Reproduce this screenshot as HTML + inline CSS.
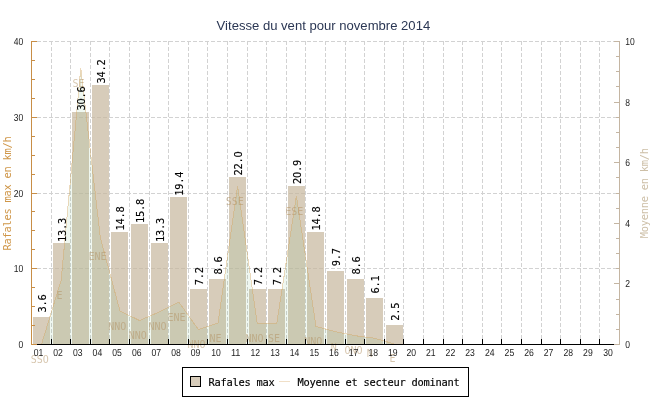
<!DOCTYPE html>
<html><head><meta charset="utf-8"><title>Vitesse du vent pour novembre 2014</title>
<style>html,body{margin:0;padding:0;background:#fff}svg{display:block}.t{font-family:"Liberation Sans",sans-serif}.m{font-family:"DejaVu Sans Mono","Liberation Mono",monospace;font-size:10.4px;letter-spacing:-0.261px}.z{font-family:"DejaVu Sans","Liberation Sans",sans-serif;font-size:9.8px;letter-spacing:-0.235px}</style></head><body>
<svg width="650" height="400" viewBox="0 0 650 400">
<rect width="650" height="400" fill="#fff"/>
<g stroke="#d2d2d2" stroke-width="1" stroke-dasharray="4 2" shape-rendering="crispEdges"><line x1="51.5" y1="41.0" x2="51.5" y2="344.0"/><line x1="70.5" y1="41.0" x2="70.5" y2="344.0"/><line x1="90.5" y1="41.0" x2="90.5" y2="344.0"/><line x1="109.5" y1="41.0" x2="109.5" y2="344.0"/><line x1="129.5" y1="41.0" x2="129.5" y2="344.0"/><line x1="149.5" y1="41.0" x2="149.5" y2="344.0"/><line x1="168.5" y1="41.0" x2="168.5" y2="344.0"/><line x1="188.5" y1="41.0" x2="188.5" y2="344.0"/><line x1="207.5" y1="41.0" x2="207.5" y2="344.0"/><line x1="227.5" y1="41.0" x2="227.5" y2="344.0"/><line x1="247.5" y1="41.0" x2="247.5" y2="344.0"/><line x1="266.5" y1="41.0" x2="266.5" y2="344.0"/><line x1="286.5" y1="41.0" x2="286.5" y2="344.0"/><line x1="305.5" y1="41.0" x2="305.5" y2="344.0"/><line x1="325.5" y1="41.0" x2="325.5" y2="344.0"/><line x1="345.5" y1="41.0" x2="345.5" y2="344.0"/><line x1="364.5" y1="41.0" x2="364.5" y2="344.0"/><line x1="384.5" y1="41.0" x2="384.5" y2="344.0"/><line x1="403.5" y1="41.0" x2="403.5" y2="344.0"/><line x1="423.5" y1="41.0" x2="423.5" y2="344.0"/><line x1="443.5" y1="41.0" x2="443.5" y2="344.0"/><line x1="462.5" y1="41.0" x2="462.5" y2="344.0"/><line x1="482.5" y1="41.0" x2="482.5" y2="344.0"/><line x1="501.5" y1="41.0" x2="501.5" y2="344.0"/><line x1="521.5" y1="41.0" x2="521.5" y2="344.0"/><line x1="541.5" y1="41.0" x2="541.5" y2="344.0"/><line x1="560.5" y1="41.0" x2="560.5" y2="344.0"/><line x1="580.5" y1="41.0" x2="580.5" y2="344.0"/><line x1="599.5" y1="41.0" x2="599.5" y2="344.0"/><line x1="37" y1="268.5" x2="616" y2="268.5"/><line x1="37" y1="193.5" x2="616" y2="193.5"/><line x1="37" y1="117.5" x2="616" y2="117.5"/><line x1="37" y1="41.5" x2="616" y2="41.5"/></g>
<g fill="rgba(198,182,156,0.7)" shape-rendering="crispEdges"><rect x="33" y="317" width="17" height="27"/><rect x="53" y="243" width="17" height="101"/><rect x="72" y="112" width="17" height="232"/><rect x="92" y="85" width="17" height="259"/><rect x="111" y="232" width="17" height="112"/><rect x="131" y="224" width="17" height="120"/><rect x="151" y="243" width="17" height="101"/><rect x="170" y="197" width="17" height="147"/><rect x="190" y="289" width="17" height="55"/><rect x="209" y="279" width="17" height="65"/><rect x="229" y="177" width="17" height="167"/><rect x="249" y="289" width="17" height="55"/><rect x="268" y="289" width="17" height="55"/><rect x="288" y="186" width="17" height="158"/><rect x="307" y="232" width="17" height="112"/><rect x="327" y="271" width="17" height="73"/><rect x="347" y="279" width="17" height="65"/><rect x="366" y="298" width="17" height="46"/><rect x="386" y="325" width="17" height="19"/></g>
<polygon points="41.6,344.0 41.6,344 61.2,280 80.8,68 100.4,238 120.0,311 139.6,320.5 159.2,312 178.8,302 198.4,329.5 218.0,323 237.6,186 257.2,323.3 276.8,323.3 296.4,196 316.0,326.4 335.6,331.8 355.2,335.7 374.8,338.3 394.4,344 394.4,344.0" fill="rgba(110,181,118,0.11)"/>
<polyline points="41.6,344 61.2,280 80.8,68 100.4,238 120.0,311 139.6,320.5 159.2,312 178.8,302 198.4,329.5 218.0,323 237.6,186 257.2,323.3 276.8,323.3 296.4,196 316.0,326.4 335.6,331.8 355.2,335.7 374.8,338.3 394.4,344" fill="none" stroke="rgba(212,162,90,0.39)" stroke-width="1" shape-rendering="crispEdges"/>
<g class="m" style="font-size:10px;letter-spacing:-0.02px" fill="rgba(178,146,100,0.52)" text-anchor="middle"><text x="39.8" y="362.8">SSO</text><text x="59.4" y="299.0">E</text><text x="78.5" y="87.1">SE</text><text x="97.6" y="259.5">ENE</text><text x="117.2" y="329.5">NNO</text><text x="137.8" y="339.0">NNO</text><text x="157.4" y="330.1">NNO</text><text x="176.4" y="320.8">ENE</text><text x="196.4" y="347.9">NNO</text><text x="215.5" y="341.7">NE</text><text x="234.8" y="204.5">SSE</text><text x="254.4" y="341.7">NNO</text><text x="274.0" y="341.7">SE</text><text x="294.3" y="214.7">ESE</text><text x="313.2" y="344.7">NNO</text><text x="333.8" y="350.8">N</text><text x="353.4" y="353.5">ONO</text><text x="369.8" y="356.5">N</text><text x="392.6" y="362.1">E</text></g>
<g class="m" fill="#000" stroke="#000" stroke-width="0.15" text-anchor="middle"><text transform="translate(46.1,303.4) rotate(-90)">3.6</text><text transform="translate(66.1,230.0) rotate(-90)">13.3</text><text transform="translate(85.1,98.4) rotate(-90)">3<tspan class="z">0</tspan>.6</text><text transform="translate(105.1,71.6) rotate(-90)">34.2</text><text transform="translate(124.1,218.6) rotate(-90)">14.8</text><text transform="translate(144.1,211.0) rotate(-90)">15.8</text><text transform="translate(164.1,230.0) rotate(-90)">13.3</text><text transform="translate(183.1,183.7) rotate(-90)">19.4</text><text transform="translate(203.1,276.2) rotate(-90)">7.2</text><text transform="translate(222.1,265.6) rotate(-90)">8.6</text><text transform="translate(242.1,163.5) rotate(-90)">22.<tspan class="z">0</tspan></text><text transform="translate(262.1,276.2) rotate(-90)">7.2</text><text transform="translate(281.1,276.2) rotate(-90)">7.2</text><text transform="translate(301.1,171.9) rotate(-90)">2<tspan class="z">0</tspan>.9</text><text transform="translate(320.1,218.6) rotate(-90)">14.8</text><text transform="translate(340.1,257.2) rotate(-90)">9.7</text><text transform="translate(360.1,265.6) rotate(-90)">8.6</text><text transform="translate(379.1,284.5) rotate(-90)">6.1</text><text transform="translate(399.1,311.8) rotate(-90)">2.5</text></g>
<g stroke="#000" shape-rendering="crispEdges"><line x1="32" y1="344.5" x2="614" y2="344.5"/><line x1="51.5" y1="339" x2="51.5" y2="344"/><line x1="70.5" y1="339" x2="70.5" y2="344"/><line x1="90.5" y1="339" x2="90.5" y2="344"/><line x1="109.5" y1="339" x2="109.5" y2="344"/><line x1="129.5" y1="339" x2="129.5" y2="344"/><line x1="149.5" y1="339" x2="149.5" y2="344"/><line x1="168.5" y1="339" x2="168.5" y2="344"/><line x1="188.5" y1="339" x2="188.5" y2="344"/><line x1="207.5" y1="339" x2="207.5" y2="344"/><line x1="227.5" y1="339" x2="227.5" y2="344"/><line x1="247.5" y1="339" x2="247.5" y2="344"/><line x1="266.5" y1="339" x2="266.5" y2="344"/><line x1="286.5" y1="339" x2="286.5" y2="344"/><line x1="305.5" y1="339" x2="305.5" y2="344"/><line x1="325.5" y1="339" x2="325.5" y2="344"/><line x1="345.5" y1="339" x2="345.5" y2="344"/><line x1="364.5" y1="339" x2="364.5" y2="344"/><line x1="384.5" y1="339" x2="384.5" y2="344"/><line x1="403.5" y1="339" x2="403.5" y2="344"/><line x1="423.5" y1="339" x2="423.5" y2="344"/><line x1="443.5" y1="339" x2="443.5" y2="344"/><line x1="462.5" y1="339" x2="462.5" y2="344"/><line x1="482.5" y1="339" x2="482.5" y2="344"/><line x1="501.5" y1="339" x2="501.5" y2="344"/><line x1="521.5" y1="339" x2="521.5" y2="344"/><line x1="541.5" y1="339" x2="541.5" y2="344"/><line x1="560.5" y1="339" x2="560.5" y2="344"/><line x1="580.5" y1="339" x2="580.5" y2="344"/><line x1="599.5" y1="339" x2="599.5" y2="344"/></g><g stroke="#c88e46" shape-rendering="crispEdges"><line x1="31.5" y1="41.0" x2="31.5" y2="345.0"/><line x1="31" y1="344.5" x2="37" y2="344.5"/><line x1="31" y1="325.5" x2="35" y2="325.5"/><line x1="31" y1="306.5" x2="35" y2="306.5"/><line x1="31" y1="287.5" x2="35" y2="287.5"/><line x1="31" y1="268.5" x2="37" y2="268.5"/><line x1="31" y1="249.5" x2="35" y2="249.5"/><line x1="31" y1="230.5" x2="35" y2="230.5"/><line x1="31" y1="211.5" x2="35" y2="211.5"/><line x1="31" y1="193.5" x2="37" y2="193.5"/><line x1="31" y1="174.5" x2="35" y2="174.5"/><line x1="31" y1="155.5" x2="35" y2="155.5"/><line x1="31" y1="136.5" x2="35" y2="136.5"/><line x1="31" y1="117.5" x2="37" y2="117.5"/><line x1="31" y1="98.5" x2="35" y2="98.5"/><line x1="31" y1="79.5" x2="35" y2="79.5"/><line x1="31" y1="60.5" x2="35" y2="60.5"/><line x1="31" y1="41.5" x2="37" y2="41.5"/></g><g stroke="#c4b5a2" shape-rendering="crispEdges"><line x1="619.5" y1="41.0" x2="619.5" y2="345.0"/><line x1="614" y1="344.5" x2="620" y2="344.5"/><line x1="616" y1="329.5" x2="620" y2="329.5"/><line x1="616" y1="314.5" x2="620" y2="314.5"/><line x1="616" y1="299.5" x2="620" y2="299.5"/><line x1="614" y1="283.5" x2="620" y2="283.5"/><line x1="616" y1="268.5" x2="620" y2="268.5"/><line x1="616" y1="253.5" x2="620" y2="253.5"/><line x1="616" y1="238.5" x2="620" y2="238.5"/><line x1="614" y1="223.5" x2="620" y2="223.5"/><line x1="616" y1="208.5" x2="620" y2="208.5"/><line x1="616" y1="193.5" x2="620" y2="193.5"/><line x1="616" y1="177.5" x2="620" y2="177.5"/><line x1="614" y1="162.5" x2="620" y2="162.5"/><line x1="616" y1="147.5" x2="620" y2="147.5"/><line x1="616" y1="132.5" x2="620" y2="132.5"/><line x1="616" y1="117.5" x2="620" y2="117.5"/><line x1="614" y1="102.5" x2="620" y2="102.5"/><line x1="616" y1="86.5" x2="620" y2="86.5"/><line x1="616" y1="71.5" x2="620" y2="71.5"/><line x1="616" y1="56.5" x2="620" y2="56.5"/><line x1="614" y1="41.5" x2="620" y2="41.5"/></g>
<g class="t" text-rendering="geometricPrecision" font-size="10.2" fill="#1c1c1c"><text x="18.6" y="348.0" textLength="4.75" lengthAdjust="spacingAndGlyphs">0</text><text x="13.8" y="272.2" textLength="9.5" lengthAdjust="spacingAndGlyphs">10</text><text x="13.8" y="196.5" textLength="9.5" lengthAdjust="spacingAndGlyphs">20</text><text x="13.8" y="120.8" textLength="9.5" lengthAdjust="spacingAndGlyphs">30</text><text x="13.8" y="45.0" textLength="9.5" lengthAdjust="spacingAndGlyphs">40</text><text x="625.2" y="348.0" textLength="4.75" lengthAdjust="spacingAndGlyphs">0</text><text x="625.2" y="287.4" textLength="4.75" lengthAdjust="spacingAndGlyphs">2</text><text x="625.2" y="226.8" textLength="4.75" lengthAdjust="spacingAndGlyphs">4</text><text x="625.2" y="166.2" textLength="4.75" lengthAdjust="spacingAndGlyphs">6</text><text x="625.2" y="105.6" textLength="4.75" lengthAdjust="spacingAndGlyphs">8</text><text x="625.2" y="45.0" textLength="9.5" lengthAdjust="spacingAndGlyphs">10</text><text x="33.7" y="356" textLength="9.6" lengthAdjust="spacingAndGlyphs">01</text><text x="53.3" y="356" textLength="9.6" lengthAdjust="spacingAndGlyphs">02</text><text x="73.0" y="356" textLength="9.6" lengthAdjust="spacingAndGlyphs">03</text><text x="92.6" y="356" textLength="9.6" lengthAdjust="spacingAndGlyphs">04</text><text x="112.3" y="356" textLength="9.6" lengthAdjust="spacingAndGlyphs">05</text><text x="131.9" y="356" textLength="9.6" lengthAdjust="spacingAndGlyphs">06</text><text x="151.5" y="356" textLength="9.6" lengthAdjust="spacingAndGlyphs">07</text><text x="171.2" y="356" textLength="9.6" lengthAdjust="spacingAndGlyphs">08</text><text x="190.8" y="356" textLength="9.6" lengthAdjust="spacingAndGlyphs">09</text><text x="211.3" y="356" textLength="9.6" lengthAdjust="spacingAndGlyphs">10</text><text x="230.9" y="356" textLength="9.6" lengthAdjust="spacingAndGlyphs">11</text><text x="250.5" y="356" textLength="9.6" lengthAdjust="spacingAndGlyphs">12</text><text x="270.2" y="356" textLength="9.6" lengthAdjust="spacingAndGlyphs">13</text><text x="289.8" y="356" textLength="9.6" lengthAdjust="spacingAndGlyphs">14</text><text x="309.5" y="356" textLength="9.6" lengthAdjust="spacingAndGlyphs">15</text><text x="329.1" y="356" textLength="9.6" lengthAdjust="spacingAndGlyphs">16</text><text x="348.7" y="356" textLength="9.6" lengthAdjust="spacingAndGlyphs">17</text><text x="368.4" y="356" textLength="9.6" lengthAdjust="spacingAndGlyphs">18</text><text x="388.0" y="356" textLength="9.6" lengthAdjust="spacingAndGlyphs">19</text><text x="406.4" y="356" textLength="9.6" lengthAdjust="spacingAndGlyphs">20</text><text x="426.0" y="356" textLength="9.6" lengthAdjust="spacingAndGlyphs">21</text><text x="445.6" y="356" textLength="9.6" lengthAdjust="spacingAndGlyphs">22</text><text x="465.3" y="356" textLength="9.6" lengthAdjust="spacingAndGlyphs">23</text><text x="484.9" y="356" textLength="9.6" lengthAdjust="spacingAndGlyphs">24</text><text x="504.6" y="356" textLength="9.6" lengthAdjust="spacingAndGlyphs">25</text><text x="524.2" y="356" textLength="9.6" lengthAdjust="spacingAndGlyphs">26</text><text x="543.8" y="356" textLength="9.6" lengthAdjust="spacingAndGlyphs">27</text><text x="563.5" y="356" textLength="9.6" lengthAdjust="spacingAndGlyphs">28</text><text x="583.1" y="356" textLength="9.6" lengthAdjust="spacingAndGlyphs">29</text><text x="603.3" y="356" textLength="9.6" lengthAdjust="spacingAndGlyphs">30</text></g>
<text class="m" fill="#cf9648" text-anchor="middle" transform="translate(11,193.5) rotate(-90)">Rafales max en km/h</text>
<text class="m" fill="#cdbfa7" text-anchor="middle" transform="translate(648,193.3) rotate(-90)">Moyenne en km/h</text>
<text class="t" x="216.6" y="30" font-size="13.3" fill="#2b3754" textLength="213.6" lengthAdjust="spacingAndGlyphs">Vitesse du vent pour novembre 2014</text>
<rect x="182.5" y="367.5" width="286" height="29" fill="#fff" stroke="#000" shape-rendering="crispEdges"/>
<rect x="190.5" y="376.5" width="10" height="10" fill="#d7ccba" stroke="#000" shape-rendering="crispEdges"/>
<g class="m" fill="#000" stroke="#000" stroke-width="0.15"><text x="208.5" y="386">Rafales max</text>
<text x="297.6" y="386">Moyenne et secteur dominant</text></g>
<line x1="279" y1="381.5" x2="290" y2="381.5" stroke="rgba(212,162,90,0.34)" shape-rendering="crispEdges"/>
</svg></body></html>
